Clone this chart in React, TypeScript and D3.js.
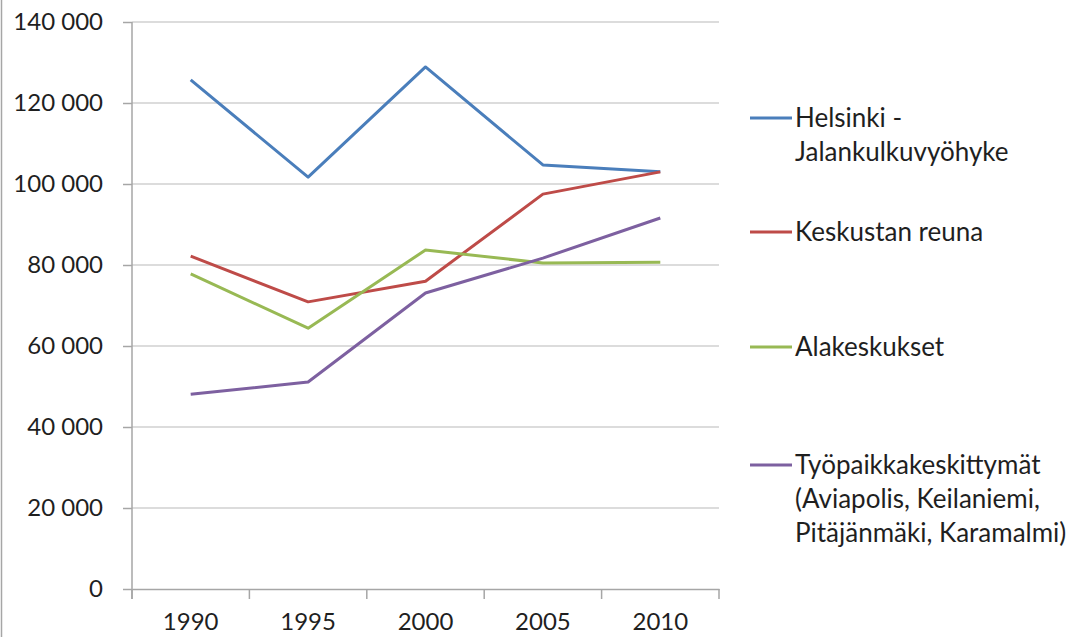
import React, { useEffect, useRef } from 'react';
import * as d3 from 'd3';

const years = ['1990', '1995', '2000', '2005', '2010'];
const helsinki = [125700, 101700, 128900, 104700, 103000];
const keskusta = [82200, 70900, 76000, 97500, 103000];
const alakeskukset = [77800, 64400, 83700, 80500, 80700];
const tyopaikat = [48100, 51100, 73100, 81700, 91600];
const yTicks = [0, 20000, 40000, 60000, 80000, 100000, 120000, 140000];

const seriesLabels = [
  ['Helsinki -', 'Jalankulkuvyöhyke'],
  ['Keskustan reuna'],
  ['Alakeskukset'],
  ['Työpaikkakeskittymät', '(Aviapolis, Keilaniemi,', 'Pitäjänmäki, Karamalmi)'],
];
const seriesColors = ['#4a7ebb', '#be4b48', '#98b954', '#7d60a0'];

function App() {
  const svgRef = useRef<SVGSVGElement>(null);
  const width = 1080;
  const height = 637;

  useEffect(() => {
    const svg = d3.select(svgRef.current);
    svg.selectAll('*').remove();

    const font = 'Lato, "Open Sans", sans-serif';
    const textColor = '#1f1f1f';
    const left = 132;
    const right = 719;
    const top = 22;
    const bottom = 589;

    const x = d3.scaleBand().domain(years).range([left, right]).paddingInner(0).paddingOuter(0);
    const y = d3.scaleLinear().domain([0, 140000]).range([bottom, top]);
    const cx = (d: string) => (x(d) as number) + x.bandwidth() / 2;

    const fmt = d3.formatLocale({ thousands: ' ', grouping: [3], decimal: ',', currency: ['', ''] }).format(',');

    // outer border on the left
    svg.append('line')
      .attr('x1', 1.5).attr('x2', 1.5).attr('y1', 0).attr('y2', height)
      .attr('stroke', '#a6a6a6').attr('stroke-width', 1.5);

    // gridlines
    svg.append('g')
      .selectAll('line')
      .data(yTicks.filter(t => t > 0))
      .enter()
      .append('line')
      .attr('x1', left).attr('x2', right)
      .attr('y1', d => y(d)).attr('y2', d => y(d))
      .attr('stroke', '#d0d0d0').attr('stroke-width', 1.5);

    // y axis
    const yAxis = svg.append('g')
      .attr('transform', `translate(${left},0)`)
      .call(d3.axisLeft(y).tickValues(yTicks).tickFormat(d => fmt(d as number)).tickSize(9).tickPadding(20));
    yAxis.select('.domain').remove();
    yAxis.selectAll('.tick line').attr('stroke', '#a6a6a6').attr('stroke-width', 1.5);
    yAxis.selectAll('text')
      .attr('fill', textColor)
      .style('font-family', font)
      .style('font-size', '24px');
    svg.append('line')
      .attr('x1', left).attr('x2', left).attr('y1', top).attr('y2', bottom + 10)
      .attr('stroke', '#a6a6a6').attr('stroke-width', 1.5);

    // x axis
    const xAxis = svg.append('g')
      .attr('transform', `translate(0,${bottom})`)
      .call(d3.axisBottom(x).tickSize(0).tickPadding(24));
    xAxis.select('.domain').attr('stroke', '#a6a6a6').attr('stroke-width', 1.5);
    xAxis.selectAll('text')
      .attr('fill', textColor)
      .style('font-family', font)
      .style('font-size', '24px');
    svg.append('g')
      .selectAll('line')
      .data(years.map(d => x(d) as number).concat([right]))
      .enter()
      .append('line')
      .attr('x1', d => d).attr('x2', d => d)
      .attr('y1', bottom).attr('y2', bottom + 10)
      .attr('stroke', '#a6a6a6').attr('stroke-width', 1.5);

    // lines
    const allSeries = [helsinki, keskusta, alakeskukset, tyopaikat];
    const line = d3.line<number>()
      .x((_, i) => cx(years[i]))
      .y(d => y(d));
    svg.append('g')
      .selectAll('path')
      .data(allSeries)
      .enter()
      .append('path')
      .attr('d', d => line(d))
      .attr('fill', 'none')
      .attr('stroke', (_, i) => seriesColors[i])
      .attr('stroke-width', 3)
      .attr('stroke-linejoin', 'round');

    // legend
    const legendY = [118, 232, 347, 465];
    const lineGap = 34;
    seriesLabels.forEach((labels, i) => {
      const g = svg.append('g').attr('transform', `translate(750,${legendY[i]})`);
      g.append('line')
        .attr('x1', 0).attr('x2', 42).attr('y1', 0).attr('y2', 0)
        .attr('stroke', seriesColors[i]).attr('stroke-width', 3);
      g.selectAll('text')
        .data(labels)
        .enter()
        .append('text')
        .attr('x', 45)
        .attr('y', (_, j) => j * lineGap)
        .attr('dy', '0.35em')
        .attr('fill', textColor)
        .style('font-family', font)
        .style('font-size', '26px')
        .text(d => d);
    });
  }, []);

  return (
    <svg
      ref={svgRef}
      width={width}
      height={height}
      style={{ position: 'absolute', left: 0, top: 0, background: '#fff' }}
    ></svg>
  );
}

export default App;
